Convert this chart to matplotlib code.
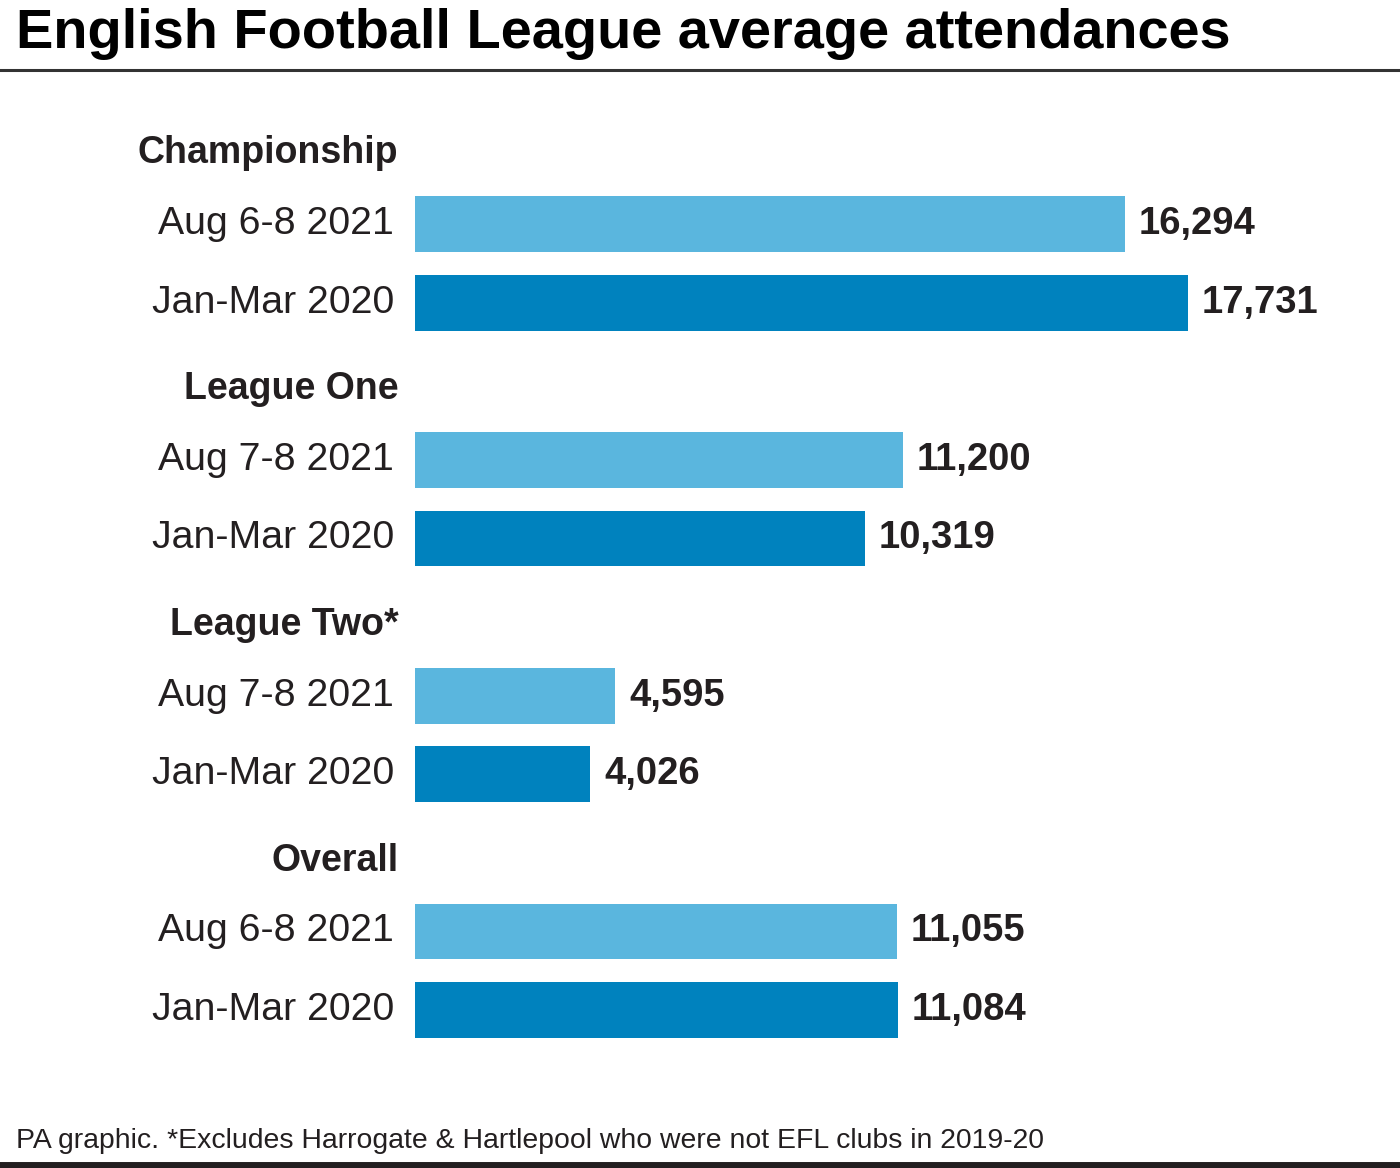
import matplotlib.pyplot as plt

plt.rcParams['font.family'] = ['Liberation Sans', 'DejaVu Sans']

# data
leagues = ['Championship', 'League One', 'League Two*', 'Overall']
periods_2021 = ['Aug 6-8 2021', 'Aug 7-8 2021', 'Aug 7-8 2021', 'Aug 6-8 2021']
period_2020 = 'Jan-Mar 2020'
att_2021 = [16294, 11200, 4595, 11055]
att_2020 = [17731, 10319, 4026, 11084]

light = '#5ab6de'
dark = '#0082be'
txt = '#231f20'

W, H = 1400, 1168
fig = plt.figure(figsize=(W / 100, H / 100), dpi=100)

# bar area: x from 415px, 1 unit = 0.04357 px; rows 78.6 px apart
ax = fig.add_axes([415 / W, 1 - 1080 / H, 985 / W, 980 / H])
ax.set_xlim(0, 985 / 0.04357)
ax.set_ylim(10.89, -1.578)
ax.axis('off')

for g, name in enumerate(leagues):
    y1 = g * 3
    y2 = g * 3 + 1
    ax.barh(y1, att_2021[g], height=0.71, color=light)
    ax.barh(y2, att_2020[g], height=0.71, color=dark)
    ax.annotate(name, (0, y1 - 0.9), xytext=(-12, 0), textcoords='offset points',
                ha='right', va='center', fontsize=27, fontweight='bold', color=txt)
    for y, lab, v in [(y1, periods_2021[g], att_2021[g]), (y2, period_2020, att_2020[g])]:
        ax.annotate(lab, (0, y), xytext=(-15, 0), textcoords='offset points',
                    ha='right', va='center', fontsize=28.3, color=txt)
        ax.annotate(f'{v:,}', (v, y), xytext=(10, 0), textcoords='offset points',
                    ha='left', va='center', fontsize=27.5, fontweight='bold', color=txt)

fig.text(16 / W, 1 - 34 / H, 'English Football League average attendances',
         ha='left', va='center', fontsize=40.3, fontweight='bold', color='black')
fig.add_artist(plt.Line2D([0, 1], [1 - 70 / H, 1 - 70 / H], color='#333333', lw=2.2))

fig.text(16 / W, 1 - 1141 / H,
         'PA graphic. *Excludes Harrogate & Hartlepool who were not EFL clubs in 2019-20',
         ha='left', va='center', fontsize=20.4, color=txt)
fig.add_artist(plt.Line2D([0, 1], [1 - 1165 / H, 1 - 1165 / H], color=txt, lw=5))

fig.savefig('out.png', dpi=100, facecolor='white')
